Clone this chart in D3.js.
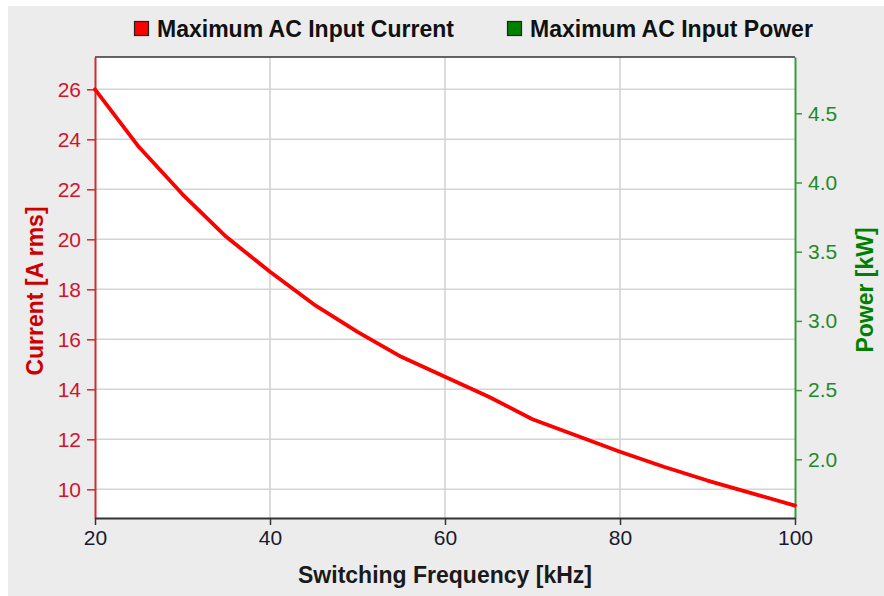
<!DOCTYPE html>
<html>
<head>
<meta charset="utf-8">
<script src="https://cdn.jsdelivr.net/npm/d3@7"></script>
<style>
  html, body { margin: 0; padding: 0; background: #ffffff; }
  svg { display: block; }
  text { font-family: "Liberation Sans", Arial, sans-serif; }
</style>
</head>
<body>
<svg id="chart" width="884" height="596"></svg>
<script>
// ---- Data ----
const frequency = [20, 25, 30, 35, 40, 45, 50, 55, 60, 65, 70, 75, 80, 85, 90, 95, 100];
const currentA = [26.0, 23.7, 21.8, 20.1, 18.7, 17.4, 16.3, 15.3, 14.5, 13.7, 12.8, 12.15, 11.5, 10.9, 10.35, 9.85, 9.35];
const powerKW = [4.673, 4.258, 3.915, 3.608, 3.355, 3.120, 2.921, 2.741, 2.596, 2.452, 2.289, 2.172, 2.054, 1.946, 1.846, 1.756, 1.666];
const xTicks = [20, 40, 60, 80, 100];
const leftTicks = [10, 12, 14, 16, 18, 20, 22, 24, 26];
const rightTicks = [2.0, 2.5, 3.0, 3.5, 4.0, 4.5];
const seriesNames = ["Maximum AC Input Current", "Maximum AC Input Power"];
const xTitle = "Switching Frequency [kHz]";
const leftTitle = "Current [A rms]";
const rightTitle = "Power [kW]";

// ---- Layout ----
const svg = d3.select("#chart");
const P = { left: 95, right: 795, top: 57, bottom: 518 };
const RED = "#ff0000", RED_TXT = "#d0142c", GREEN = "#008000", GREEN_AX = "#3a9a3a";

svg.append("rect").attr("x", 8).attr("y", 6).attr("width", 876).attr("height", 590).attr("fill", "#ececec");
svg.append("rect").attr("x", P.left).attr("y", P.top).attr("width", P.right - P.left).attr("height", P.bottom - P.top).attr("fill", "#ffffff");

const x = d3.scaleLinear().domain([20, 100]).range([P.left, P.right]);
const yL = d3.scaleLinear().domain([8.852, 27.292]).range([P.bottom, P.top]);
const yR = d3.scaleLinear().domain([1.5759, 4.9068]).range([P.bottom, P.top]);

// grid
const grid = svg.append("g").attr("stroke", "#d4d4d4").attr("stroke-width", 1.6);
grid.selectAll("line.h").data(leftTicks).join("line")
  .attr("x1", P.left).attr("x2", P.right).attr("y1", d => yL(d)).attr("y2", d => yL(d));
grid.selectAll("line.v").data(xTicks.slice(1, -1)).join("line")
  .attr("y1", P.top).attr("y2", P.bottom).attr("x1", d => x(d)).attr("x2", d => x(d));

// top border
svg.append("line").attr("x1", P.left).attr("x2", P.right).attr("y1", P.top).attr("y2", P.top)
  .attr("stroke", "#333").attr("stroke-width", 1.5);

// axes
const lAxis = svg.append("g").attr("transform", `translate(${P.left},0)`)
  .call(d3.axisLeft(yL).tickValues(leftTicks).tickSize(8).tickSizeOuter(0).tickPadding(6).tickFormat(d3.format("d")));
lAxis.select(".domain").attr("stroke", "#d42a2a").attr("stroke-width", 2);
lAxis.selectAll(".tick line").attr("stroke", "#d42a2a").attr("stroke-width", 1.5);
lAxis.selectAll(".tick text").attr("fill", RED_TXT).attr("font-size", 21);

const rAxis = svg.append("g").attr("transform", `translate(${P.right},0)`)
  .call(d3.axisRight(yR).tickValues(rightTicks).tickSize(7).tickSizeOuter(0).tickPadding(6).tickFormat(d3.format(".1f")));
rAxis.select(".domain").attr("stroke", GREEN_AX).attr("stroke-width", 2);
rAxis.selectAll(".tick line").attr("stroke", GREEN_AX).attr("stroke-width", 1.5);
rAxis.selectAll(".tick text").attr("fill", "#1e8a2a").attr("font-size", 21);

const xAxis = svg.append("g").attr("transform", `translate(0,${P.bottom})`)
  .call(d3.axisBottom(x).tickValues(xTicks).tickSize(7).tickSizeOuter(0).tickPadding(5).tickFormat(d3.format("d")));
xAxis.select(".domain").attr("stroke", "#333").attr("stroke-width", 2);
xAxis.selectAll(".tick line").attr("stroke", "#333").attr("stroke-width", 1.5);
xAxis.selectAll(".tick text").attr("fill", "#1a1a2e").attr("font-size", 21).attr("dy", "0.72em");

// lines
const lineP = d3.line().x((d, i) => x(frequency[i])).y(d => yR(d));
const lineC = d3.line().x((d, i) => x(frequency[i])).y(d => yL(d));
svg.append("path").datum(powerKW).attr("d", lineP).attr("fill", "none")
  .attr("stroke", GREEN).attr("stroke-width", 2.5).attr("stroke-linejoin", "round");
svg.append("path").datum(currentA).attr("d", lineC).attr("fill", "none")
  .attr("stroke", RED).attr("stroke-width", 3.8).attr("stroke-linejoin", "round").attr("stroke-linecap", "round");

// titles
svg.append("text").attr("x", (P.left + P.right) / 2).attr("y", 583).attr("text-anchor", "middle")
  .attr("font-size", 23).attr("font-weight", "bold").attr("fill", "#1a1a1a").text(xTitle);
svg.append("text").attr("transform", `translate(43,291) rotate(-90)`).attr("text-anchor", "middle")
  .attr("font-size", 23).attr("font-weight", "bold").attr("fill", "#cc0000").text(leftTitle);
svg.append("text").attr("transform", `translate(873,290) rotate(-90)`).attr("text-anchor", "middle")
  .attr("font-size", 23).attr("font-weight", "bold").attr("fill", GREEN).text(rightTitle);

// legend
const legendX = [134, 507];
const legendColors = [RED, GREEN];
const lg = svg.append("g").selectAll("g").data(seriesNames).join("g")
  .attr("transform", (d, i) => `translate(${legendX[i]},0)`);
lg.append("rect").attr("x", 0.5).attr("y", 21.5).attr("width", 14).attr("height", 14)
  .attr("fill", (d, i) => legendColors[i]).attr("stroke", "#222").attr("stroke-width", 1.2);
lg.append("text").attr("x", 23).attr("y", 36.5).attr("font-size", 23).attr("font-weight", "bold")
  .attr("fill", "#111").text(d => d);
</script>
</body>
</html>
